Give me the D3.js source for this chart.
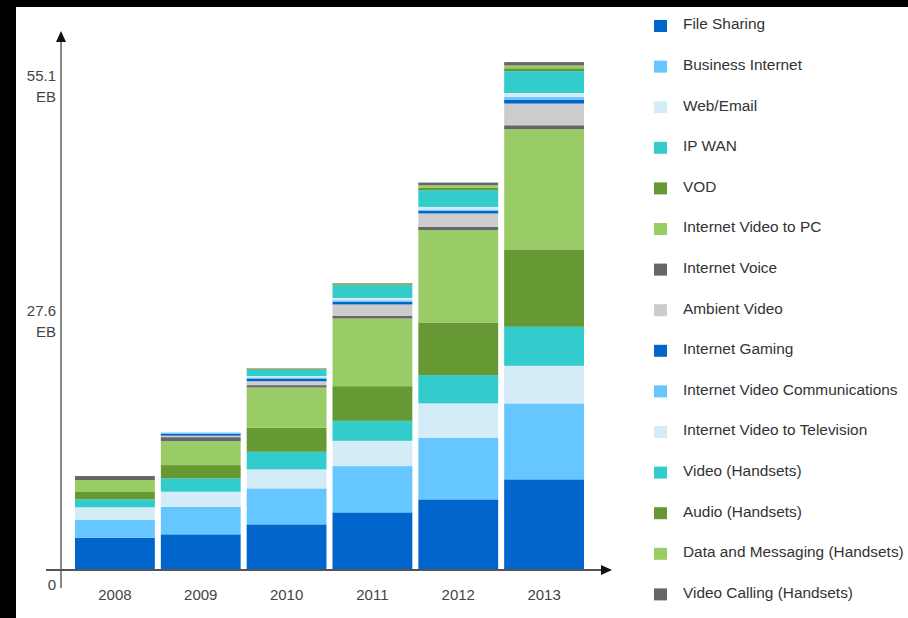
<!DOCTYPE html>
<html>
<head>
<meta charset="utf-8">
<script src="https://cdn.jsdelivr.net/npm/d3@7"></script>
<style>
  body { margin: 0; background: #000; }
  svg { display: block; font-family: "Liberation Sans", Arial, sans-serif; }
</style>
</head>
<body>
<div id="chart"></div>
<script>
// ---- data (EB per month) ----
var years = ["2008", "2009", "2010", "2011", "2012", "2013"];

var fileSharing      = [3.50, 3.87, 4.95, 6.25, 7.66, 9.83];
var businessInternet = [1.92, 2.99, 3.90, 5.02, 6.68, 8.24];
var webEmail         = [1.38, 1.63, 2.06, 2.74, 3.73, 4.08];
var ipWan            = [0.87, 1.45, 1.91, 2.17, 3.07, 4.23];
var vod              = [0.79, 1.44, 2.60, 3.76, 5.71, 8.39];
var videoToPc        = [1.30, 2.60, 4.38, 7.34, 10.01, 13.04];
var internetVoice    = [0.43, 0.43, 0.25, 0.28, 0.36, 0.43];
var ambientVideo     = [0.00, 0.16, 0.43, 1.24, 1.45, 2.35];
var internetGaming   = [0.00, 0.22, 0.29, 0.30, 0.30, 0.43];
var videoComm        = [0.00, 0.11, 0.11, 0.16, 0.13, 0.28];
var videoToTv        = [0.00, 0.03, 0.16, 0.25, 0.28, 0.43];
var videoHandsets    = [0.00, 0.01, 0.69, 1.38, 1.81, 2.38];
var audioHandsets    = [0.00, 0.00, 0.09, 0.11, 0.27, 0.31];
var dataHandsets     = [0.00, 0.00, 0.05, 0.08, 0.27, 0.31];
var videoCalling     = [0.00, 0.00, 0.03, 0.05, 0.29, 0.36];

var seriesNames = ["File Sharing", "Business Internet", "Web/Email", "IP WAN", "VOD",
  "Internet Video to PC", "Internet Voice", "Ambient Video", "Internet Gaming",
  "Internet Video Communications", "Internet Video to Television", "Video (Handsets)",
  "Audio (Handsets)", "Data and Messaging (Handsets)", "Video Calling (Handsets)"];
var seriesValues = [fileSharing, businessInternet, webEmail, ipWan, vod, videoToPc,
  internetVoice, ambientVideo, internetGaming, videoComm, videoToTv, videoHandsets,
  audioHandsets, dataHandsets, videoCalling];
var seriesColors = ["#0066cc", "#66c6ff", "#d4ecf7", "#33cccc", "#669933", "#99cc66",
  "#666666", "#cccccc", "#0066cc", "#66c6ff", "#d4ecf7", "#33cccc", "#669933",
  "#99cc66", "#666666"];

var tickValues = [0, 27.6, 55.1];
var tickLabels = ["0", "27.6", "55.1"];
var tickDy = [20, 0, 19];   // the labels sit at uneven spots in the original

// ---- build table for the stack ----
var table = years.map(function(yr, i) {
  var row = { year: yr };
  seriesNames.forEach(function(n, j) { row[n] = seriesValues[j][i]; });
  return row;
});

var W = 908, H = 618;
var svg = d3.select("#chart").append("svg").attr("width", W).attr("height", H);

// black frame on top/left, white page
svg.append("rect").attr("width", W).attr("height", H).attr("fill", "#000");
svg.append("rect").attr("x", 16).attr("y", 7).attr("width", W - 16).attr("height", H - 7).attr("fill", "#fff");

var x = d3.scaleBand().domain(years).range([75, 584]).paddingInner(0.07).paddingOuter(0);
var y = d3.scaleLinear().domain([0, 55.1]).range([570, 62]);

var stack = d3.stack().keys(seriesNames);
var layers = stack(table);

svg.append("g").selectAll("g")
  .data(layers)
  .enter().append("g")
    .attr("fill", function(d, i) { return seriesColors[i]; })
  .selectAll("rect")
  .data(function(d) { return d; })
  .enter().append("rect")
    .attr("x", function(d) { return x(d.data.year); })
    .attr("width", x.bandwidth())
    .attr("y", function(d) { return y(d[1]); })
    .attr("height", function(d) { return y(d[0]) - y(d[1]); });

// ---- axes ----
var axisG = svg.append("g");
// y axis line with arrow
axisG.append("line")
  .attr("x1", 61).attr("x2", 61).attr("y1", 40).attr("y2", 588)
  .attr("stroke", "#888").attr("stroke-width", 2);
axisG.append("path")
  .attr("d", "M61,31 L56,42 L66,42 Z").attr("fill", "#111");
// x axis line with arrow
axisG.append("line")
  .attr("x1", 46).attr("x2", 604).attr("y1", y(0)).attr("y2", y(0))
  .attr("stroke", "#555").attr("stroke-width", 2);
axisG.append("path")
  .attr("d", "M612," + y(0) + " L601," + (y(0) - 5) + " L601," + (y(0) + 5) + " Z")
  .attr("fill", "#111");

// y labels
tickValues.forEach(function(v, i) {
  axisG.append("text")
    .attr("x", 56).attr("y", y(v) + tickDy[i])
    .attr("text-anchor", "end").attr("font-size", 15).attr("fill", "#444")
    .text(tickLabels[i]);
  if (v > 0) {
    axisG.append("text")
      .attr("x", 56).attr("y", y(v) + tickDy[i] + 21)
      .attr("text-anchor", "end").attr("font-size", 15).attr("fill", "#444")
      .text("EB");
  }
});

// x labels
axisG.selectAll(".xlab")
  .data(years)
  .enter().append("text")
    .attr("class", "xlab")
    .attr("x", function(d) { return x(d) + x.bandwidth() / 2; })
    .attr("y", 600)
    .attr("text-anchor", "middle").attr("font-size", 15).attr("fill", "#444")
    .text(function(d) { return d; });

// ---- legend ----
var legend = svg.append("g").selectAll("g")
  .data(seriesNames)
  .enter().append("g")
    .attr("transform", function(d, i) { return "translate(654," + (25 + i * 40.6) + ")"; });

legend.append("rect")
  .attr("x", 0).attr("y", -5).attr("width", 13).attr("height", 12)
  .attr("fill", function(d, i) { return seriesColors[i]; });

legend.append("text")
  .attr("x", 29).attr("y", -1).attr("dy", "0.35em")
  .attr("font-size", 15.4).attr("fill", "#333")
  .text(function(d) { return d; });
</script>
</body>
</html>
